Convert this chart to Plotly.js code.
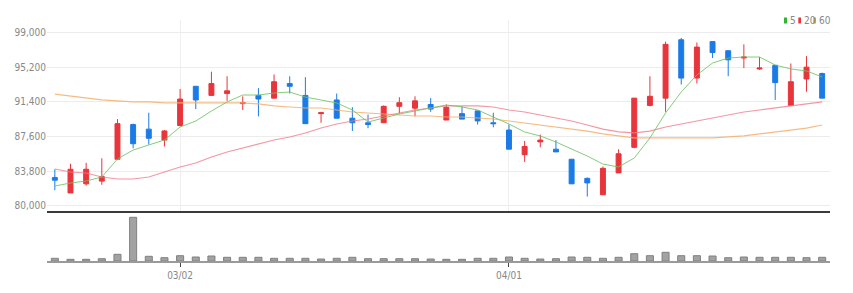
<!DOCTYPE html>
<html>
<head>
<meta charset="utf-8">
<script src="https://cdn.plot.ly/plotly-3.0.1.min.js"></script>
<style>
html,body{margin:0;padding:0;background:#fff;}
#chart{width:853px;height:293px;}
</style>
</head>
<body>
<div id="chart"></div>
<script>
const dates = ['02/17','02/18','02/21','02/22','02/23','02/24','02/25','02/28',
  '03/02','03/03','03/04','03/07','03/08','03/10','03/11','03/14','03/15','03/16','03/17','03/18',
  '03/21','03/22','03/23','03/24','03/25','03/28','03/29','03/30','03/31',
  '04/01','04/04','04/05','04/06','04/07','04/08','04/11','04/12','04/13','04/14','04/15',
  '04/18','04/19','04/20','04/21','04/22','04/25','04/26','04/27','04/28','04/29'];

const openP = [83100,81400,82400,82700,85100,88900,88400,87200,88800,93100,92100,92300,91200,92100,91800,93400,92100,90100,91600,89600,89100,89100,90900,90700,91100,89400,90100,90400,89100,88300,85600,87000,86200,85100,83000,81200,83600,86400,91000,91800,98200,94000,98000,97000,96200,95000,95400,91000,93900,94500];
const highP = [84000,84600,84700,85200,89500,89000,90200,88300,92800,93100,94700,94200,92000,92900,94400,94200,94100,90300,92300,90800,90000,91000,91900,92000,91800,91100,90900,90400,90200,88900,87100,87800,87200,85100,83100,84300,86200,91800,94200,98000,98400,97900,98000,97000,97700,96300,95400,95600,96400,94600];
const lowP = [81700,81400,82200,82300,85000,86300,86700,86500,88700,90600,92100,91500,90500,89800,91800,92300,89000,89100,89600,88200,88500,89100,90100,89800,90300,89400,89500,88900,88600,86200,84800,86400,85900,82400,81000,81200,83600,86300,90900,90300,93300,93400,96200,94200,95100,94900,91600,91000,92500,91800];
const closeP = [82800,84000,84000,83200,89000,86800,87400,88200,91700,91600,93400,92600,91300,91700,93600,93100,89000,90200,89600,89100,88900,90900,91300,91500,90600,90800,89500,89300,89000,86200,86500,87200,85900,82400,82500,84100,85700,91800,92000,97700,94000,97400,96800,96000,96300,95100,93500,93600,95200,91800];

const ma5 = [82160,82490,82710,83150,85120,86110,86660,87210,88630,89290,90390,91380,92140,92140,92360,92470,91920,91600,91270,90500,89180,89620,90060,90390,90720,91050,90830,90500,89730,88960,88090,87650,86990,86220,85450,84570,84250,85230,87430,90170,92470,94340,95650,96200,96310,96310,95430,95000,94780,94120];
const ma20 = [84030,83700,83590,83150,82930,82930,83150,83700,84250,84680,85340,85890,86330,86770,87210,87540,87980,88520,88960,89290,89510,89840,90170,90500,90720,90940,90940,90940,90830,90500,90280,89950,89620,89290,88850,88410,88090,87980,88190,88630,88960,89290,89620,89950,90280,90500,90720,90940,91160,91380];
const ma60 = [92250,92030,91810,91600,91490,91380,91380,91270,91270,91270,91270,91270,91270,91160,90940,90830,90720,90720,90500,90280,90170,90060,89950,89840,89840,89730,89730,89620,89510,89290,89070,88850,88630,88410,88190,87870,87650,87430,87430,87430,87430,87430,87430,87540,87650,87870,88090,88300,88520,88850];

const volume = [270,170,170,230,670,4370,470,330,530,400,500,370,370,370,270,270,270,200,270,370,230,230,230,230,200,170,170,270,270,400,270,200,230,400,370,270,370,730,530,870,530,530,500,330,400,370,370,370,330,370];

const yTicks = [80000,83800,87600,91400,95200,99000];
const yTickText = ['80,000','83,800','87,600','91,400','95,200','99,000'];
const xTicks = ['03/02','04/01'];
const legendNames = ['5','20','60'];
const legendColors = ['#2fb52f','#e8353c','#f09a32'];

const RED = '#e8353c', BLUE = '#1b7be6';
const FONT = 'Liberation Sans Narrow, DejaVu Sans Condensed, Arial, sans-serif';

const traces = [
  {type:'candlestick', x:dates, open:openP, high:highP, low:lowP, close:closeP,
   xaxis:'x', yaxis:'y', whiskerwidth:0, hoverinfo:'skip',
   increasing:{line:{color:RED,width:1}, fillcolor:RED},
   decreasing:{line:{color:BLUE,width:1}, fillcolor:BLUE}, showlegend:false},
  {type:'scatter', mode:'lines', x:dates, y:ma60, xaxis:'x', yaxis:'y',
   line:{color:'rgba(245,175,110,0.85)', width:1.2}, hoverinfo:'skip', showlegend:false},
  {type:'scatter', mode:'lines', x:dates, y:ma20, xaxis:'x', yaxis:'y',
   line:{color:'rgba(240,125,140,0.8)', width:1.2}, hoverinfo:'skip', showlegend:false},
  {type:'scatter', mode:'lines', x:dates, y:ma5, xaxis:'x', yaxis:'y',
   line:{color:'rgba(110,195,100,0.85)', width:1}, hoverinfo:'skip', showlegend:false},
  {type:'bar', x:dates, y:volume, xaxis:'x2', yaxis:'y2',
   marker:{color:'#a2a2a2', line:{color:'#808080', width:1}}, hoverinfo:'skip', showlegend:false}
];

const L = 47, R = 830, T = 20, B = 261;
const px = v => (v - L) / (R - L);
const py = v => (B - v) / (B - T);

const shapes = [], annotations = [];
const legendX = [[784,787,788], [798.3,801,802.3], [813.3,816,817.3]];
legendNames.forEach((n,i) => {
  shapes.push({type:'rect', xref:'paper', yref:'paper',
    x0:px(legendX[i][0]), x1:px(legendX[i][1]), y0:py(23.5), y1:py(17.5),
    fillcolor:legendColors[i], line:{width:0}});
  annotations.push({xref:'paper', yref:'paper', x:px(legendX[i][2]), y:py(20.5),
    xanchor:'left', yanchor:'middle', text:n, showarrow:false,
    font:{family:FONT, size:10, color:'#888'}});
});

const layout = {
  width:853, height:293, autosize:false,
  margin:{l:L, r:853-R, t:T, b:293-B},
  paper_bgcolor:'#fff', plot_bgcolor:'#fff',
  boxgap:0.55, bargap:0.55,
  font:{family:FONT, size:10, color:'#888'},
  xaxis:{type:'category', categoryorder:'array', categoryarray:dates, range:[-0.5,49.5],
    anchor:'y', tickvals:xTicks, showticklabels:false, ticks:'',
    showgrid:true, gridcolor:'#efefef', gridwidth:1,
    showline:true, linecolor:'#3a3a3a', linewidth:2,
    rangeslider:{visible:false}, fixedrange:true},
  yaxis:{domain:[(B-211)/(B-T),1], range:[79420,100370], tickvals:yTicks, ticktext:yTickText,
    showgrid:true, gridcolor:'#ececec', zeroline:false, showline:false, ticks:'',
    tickfont:{family:FONT, size:10, color:'#888'}, fixedrange:true},
  xaxis2:{type:'category', categoryorder:'array', categoryarray:dates, range:[-0.5,49.5],
    anchor:'y2', tickvals:xTicks, ticktext:xTicks, ticks:'outside', ticklen:4, tickcolor:'#444', tickwidth:1,
    showgrid:false, showline:true, linecolor:'#9a9a9a', linewidth:2,
    tickfont:{family:FONT, size:10, color:'#888'}, fixedrange:true},
  yaxis2:{domain:[0,0.19], range:[0,4580], showgrid:false, zeroline:false, showline:false,
    showticklabels:false, ticks:'', fixedrange:true},
  shapes:shapes, annotations:annotations
};

Plotly.newPlot('chart', traces, layout, {displayModeBar:false, staticPlot:true});
</script>
</body>
</html>
